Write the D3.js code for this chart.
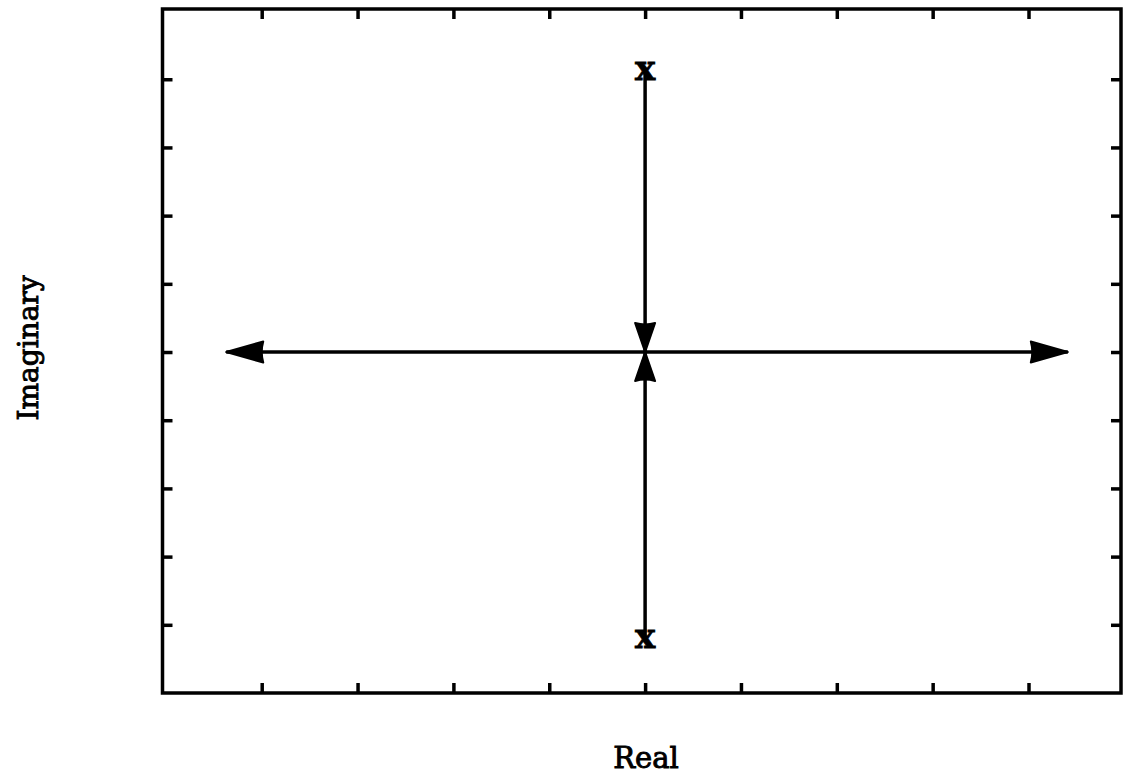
<!DOCTYPE html>
<html>
<head>
<meta charset="utf-8">
<script src="https://cdn.jsdelivr.net/npm/d3@7"></script>
<style>
  html, body { margin: 0; padding: 0; background: #fff; }
  svg { display: block; }
  text { font-family: "DejaVu Serif", "Liberation Serif", serif; fill: #000; }
</style>
</head>
<body>
<svg id="chart" width="1126" height="779"></svg>
<script>
// Root locus: two complex-conjugate open-loop poles on the imaginary axis,
// branches meet at the origin and leave along the real axis.
const xTicks = [-4, -3, -2, -1, 0, 1, 2, 3, 4];
const yTicks = [-4, -3, -2, -1, 0, 1, 2, 3, 4];
const xDomain = [-5.035, 4.965];
const yDomain = [-5.0, 5.03];

// open-loop poles (real, imaginary)
const poles = [[0, 4.16], [0, -4.16]];
// locus branches as point lists (real, imaginary)
const branchUpper = [[0, 4.16], [0, 0]];
const branchLower = [[0, -4.16], [0, 0]];
const branchLeft = [[0, 0], [-4.37, 0]];
const branchRight = [[0, 0], [4.41, 0]];
// direction arrows: tip position and heading (unit vector in data space)
const arrows = [
  { at: [-4.37, 0], dir: [-1, 0], len: 37, half: 10.5 },
  { at: [4.41, 0], dir: [1, 0], len: 37, half: 10.5 },
  { at: [0, 0], dir: [0, -1], len: 29, half: 10 },
  { at: [0, 0], dir: [0, 1], len: 29, half: 10 }
];
const xLabel = "Real";
const yLabel = "Imaginary";

const svg = d3.select("#chart");
const plotLeft = 162.5, plotRight = 1121, plotTop = 9, plotBottom = 693;

const x = d3.scaleLinear().domain(xDomain).range([plotLeft, plotRight]);
const y = d3.scaleLinear().domain(yDomain).range([plotBottom, plotTop]);

const tickLen = 10;
const g = svg.append("g");

// axes with inward ticks on all four sides
const axisStyle = sel => {
  sel.select(".domain").remove();
  sel.selectAll(".tick line").attr("stroke", "#000").attr("stroke-width", 3.5);
  sel.selectAll(".tick text").remove();
};
g.append("g").attr("transform", `translate(0,${plotBottom})`)
  .call(d3.axisBottom(x).tickValues(xTicks).tickSize(-tickLen)).call(axisStyle);
g.append("g").attr("transform", `translate(0,${plotTop})`)
  .call(d3.axisTop(x).tickValues(xTicks).tickSize(-tickLen)).call(axisStyle);
g.append("g").attr("transform", `translate(${plotLeft},0)`)
  .call(d3.axisLeft(y).tickValues(yTicks).tickSize(-tickLen)).call(axisStyle);
g.append("g").attr("transform", `translate(${plotRight},0)`)
  .call(d3.axisRight(y).tickValues(yTicks).tickSize(-tickLen)).call(axisStyle);

// frame
g.append("rect")
  .attr("x", plotLeft).attr("y", plotTop)
  .attr("width", plotRight - plotLeft).attr("height", plotBottom - plotTop)
  .attr("fill", "none").attr("stroke", "#000").attr("stroke-width", 3.5);

// locus branches
const line = d3.line().x(d => x(d[0])).y(d => y(d[1]));
g.selectAll("path.branch")
  .data([branchUpper, branchLower, branchLeft, branchRight])
  .enter().append("path")
  .attr("class", "branch")
  .attr("d", line)
  .attr("fill", "none").attr("stroke", "#000").attr("stroke-width", 3.5);

// arrowheads
g.selectAll("path.arrow")
  .data(arrows)
  .enter().append("path")
  .attr("class", "arrow")
  .attr("d", a => {
    const tx = x(a.at[0]), ty = y(a.at[1]);
    // screen-space direction (y is flipped)
    const dx = a.dir[0], dy = -a.dir[1];
    const bx = tx - dx * a.len, by = ty - dy * a.len;
    const px = -dy, py = dx;
    return `M${tx},${ty}L${bx + px * a.half},${by + py * a.half}` +
           `Q${bx + dx * 3},${by + dy * 3} ${bx - px * a.half},${by - py * a.half}Z`;
  })
  .attr("fill", "#000").attr("stroke", "#000").attr("stroke-width", 2)
  .attr("stroke-linejoin", "round");

// pole markers
g.selectAll("text.pole")
  .data(poles)
  .enter().append("text")
  .attr("class", "pole")
  .attr("x", d => x(d[0]))
  .attr("y", d => y(d[1]))
  .attr("text-anchor", "middle")
  .attr("dominant-baseline", "central")
  .attr("font-size", 34)
  .attr("font-weight", "bold")
  .attr("stroke", "#000").attr("stroke-width", 0.8)
  .text("x");

// axis labels
svg.append("text")
  .attr("x", 646).attr("y", 768)
  .attr("text-anchor", "middle")
  .attr("font-size", 29)
  .attr("stroke", "#000").attr("stroke-width", 0.9)
  .text(xLabel);

svg.append("text")
  .attr("transform", "translate(38,348) rotate(-90)")
  .attr("text-anchor", "middle")
  .attr("font-size", 28)
  .attr("stroke", "#000").attr("stroke-width", 0.9)
  .text(yLabel);
</script>
</body>
</html>
